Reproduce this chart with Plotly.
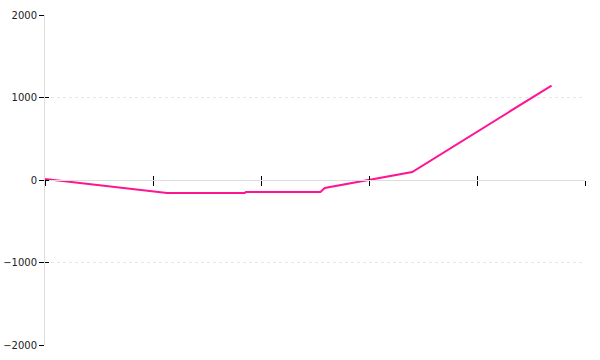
import plotly.graph_objects as go

x_vals = [0.0, 1.13, 1.85, 1.86, 2.55, 2.59, 3.40, 4.69]
y_vals = [12, -158, -158, -145, -145, -97, 97, 1145]
y_ticks = [-2000, -1000, 0, 1000, 2000]
x_ticks = [0, 1, 2, 3, 4, 5]

fig = go.Figure()
fig.add_trace(go.Scatter(x=x_vals, y=y_vals, mode="lines",
                         line=dict(color="#ff1493", width=2), showlegend=False))
# invisible trace for overlay axes
fig.add_trace(go.Scatter(x=[0], y=[0], xaxis="x2", yaxis="y2", mode="markers",
                         marker=dict(opacity=0), showlegend=False, hoverinfo="skip"))

fig.update_layout(
    width=600, height=360,
    margin=dict(l=45, r=15, t=15, b=15, autoexpand=False),
    paper_bgcolor="white", plot_bgcolor="white",
    font=dict(family="DejaVu Sans", size=10, color="#222"),
    xaxis=dict(range=[0, 5], tickvals=x_ticks, showticklabels=False,
               ticks="outside", ticklen=5, tickcolor="#000", tickwidth=1,
               showgrid=False, zeroline=False, showline=True, linecolor="#dddddd",
               anchor="free", position=0.5, automargin=False),
    yaxis=dict(range=[-2000, 2000], tickvals=y_ticks, ticks="outside", ticklen=5,
               tickcolor="#000", tickwidth=1, showgrid=True, gridcolor="#e6e6e6",
               griddash="dot", zeroline=True, zerolinecolor="#dddddd", zerolinewidth=1,
               showline=True, linecolor="#dddddd", automargin=False),
    xaxis2=dict(range=[0, 5], tickvals=x_ticks, showticklabels=False,
                ticks="inside", ticklen=4, tickcolor="#000", tickwidth=1,
                showgrid=False, zeroline=False, overlaying="x",
                anchor="free", position=0.5, automargin=False),
    yaxis2=dict(range=[-2000, 2000], tickvals=y_ticks, showticklabels=False,
                ticks="inside", ticklen=4, tickcolor="#000", tickwidth=1,
                showgrid=False, zeroline=False, overlaying="y", side="left",
                automargin=False),
)

fig.write_html("out.html")
